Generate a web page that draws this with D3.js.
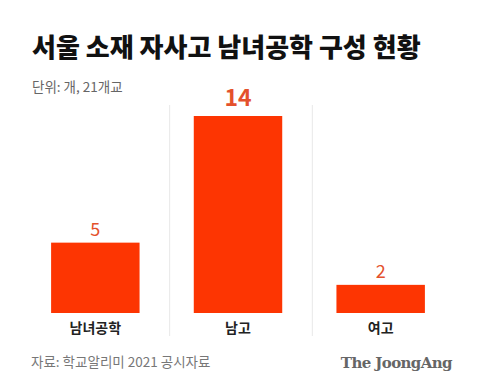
<!DOCTYPE html>
<html>
<head>
<meta charset="utf-8">
<script src="https://cdn.jsdelivr.net/npm/d3@7"></script>
<style>
body{margin:0;background:#fff;}
</style>
</head>
<body>
<div id="chart"></div>
<script>
var categories = ["남녀공학","남고","여고"];
var values = [5,14,2];
var title = "서울 소재 자사고 남녀공학 구성 현황";
var unitNote = "단위: 개, 21개교";
var source = "자료: 학교알리미 2021 공시자료";

var svg = d3.select("#chart").append("svg").attr("width",480).attr("height",390);
svg.append("rect").attr("width",480).attr("height",390).attr("fill","#fff");

var font = "'Noto Sans CJK KR', 'Noto Sans', sans-serif";

var x = d3.scaleBand().domain(categories).range([24,452]).paddingInner(0.38).paddingOuter(0.19);
var y = d3.scaleLinear().domain([0,14]).range([313,116]);

svg.append("text").attr("x",32).attr("y",57).attr("font-family",font).attr("font-weight","900")
  .attr("font-size",26).attr("fill","#111").text(title);
svg.append("text").attr("x",32).attr("y",92).attr("font-family",font)
  .attr("font-size",13.5).attr("fill","#666").text(unitNote);

// separators between columns
var step = x.step();
svg.selectAll(".sep").data(categories.slice(1)).enter().append("line")
  .attr("x1",function(d){return x(d) - step*x.paddingInner()/2 + 3;})
  .attr("x2",function(d){return x(d) - step*x.paddingInner()/2 + 3;})
  .attr("y1",105).attr("y2",336).attr("stroke","#e8e8e8").attr("stroke-width",1);

svg.selectAll(".bar").data(values).enter().append("rect")
  .attr("x",function(d,i){return x(categories[i]);})
  .attr("y",function(d){return y(d);})
  .attr("width",x.bandwidth())
  .attr("height",function(d){return y(0)-y(d);})
  .attr("fill","#fd3502");

svg.selectAll(".val").data(values).enter().append("text")
  .attr("x",function(d,i){return x(categories[i])+x.bandwidth()/2;})
  .attr("y",function(d){return y(d)-(d==d3.max(values)?10:7);})
  .attr("text-anchor","middle").attr("font-family",font)
  .attr("font-weight",function(d){return d==d3.max(values)?"bold":"normal";})
  .attr("font-size",function(d){return d==d3.max(values)?23:18;})
  .attr("fill","#e4512c").text(function(d){return d;});

svg.selectAll(".cat").data(categories).enter().append("text")
  .attr("x",function(d){return x(d)+x.bandwidth()/2;})
  .attr("y",333).attr("text-anchor","middle").attr("font-family",font)
  .attr("font-weight","bold").attr("font-size",14).attr("fill","#222").text(function(d){return d;});

svg.append("text").attr("x",31).attr("y",367).attr("font-family",font)
  .attr("font-size",13.5).attr("fill","#777").text(source);
svg.append("text").attr("x",452).attr("y",368).attr("text-anchor","end")
  .attr("font-family","'DejaVu Serif', 'Liberation Serif', serif").attr("font-weight","bold")
  .attr("font-size",15).attr("fill","#666").attr("letter-spacing",-0.6).text("The JoongAng");
</script>
</body>
</html>
